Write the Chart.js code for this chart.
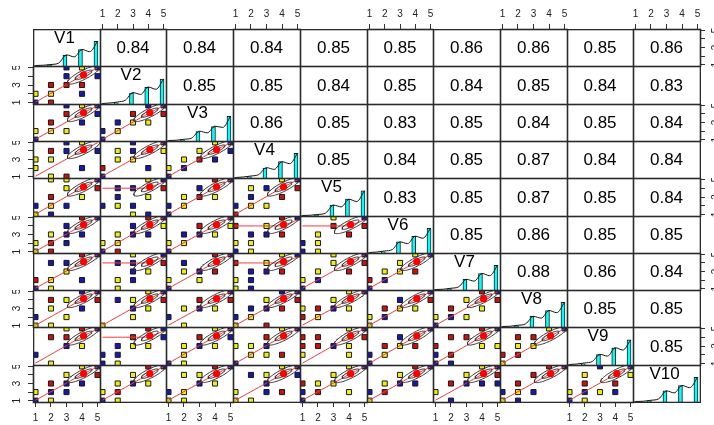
<!DOCTYPE html>
<html>
<head>
<meta charset="utf-8">
<script src="https://cdn.jsdelivr.net/npm/chart.js@4.4.1/dist/chart.umd.min.js"></script>
<style>
  body { margin: 0; background: #fff; }
  #grid { position: relative; width: 714px; height: 425px; overflow: hidden; }
  #grid canvas { position: absolute; }
</style>
</head>
<body>
<div id="grid"></div>
<script>
// variable names and axis ticks
const varNames = ['V1', 'V2', 'V3', 'V4', 'V5', 'V6', 'V7', 'V8', 'V9', 'V10'];
const tickValues = [1, 2, 3, 4, 5];
const sideTickLabels = ['1', '', '3', '', '5'];

// correlations shown in the upper triangle (row i, columns i+1..10)
const corrRow1 = [0.84, 0.84, 0.84, 0.85, 0.85, 0.86, 0.86, 0.85, 0.86];
const corrRow2 = [0.85, 0.85, 0.84, 0.85, 0.84, 0.85, 0.84, 0.83];
const corrRow3 = [0.86, 0.85, 0.83, 0.85, 0.84, 0.85, 0.84];
const corrRow4 = [0.85, 0.84, 0.85, 0.87, 0.84, 0.84];
const corrRow5 = [0.83, 0.85, 0.87, 0.85, 0.84];
const corrRow6 = [0.85, 0.86, 0.85, 0.85];
const corrRow7 = [0.88, 0.86, 0.84];
const corrRow8 = [0.85, 0.85];
const corrRow9 = [0.85];

// histogram bars (relative height) at values 1..5 for each variable
const histX = [1, 2, 3, 4, 5];
const histHeights = [
  [0.02, 0.04, 0.43, 0.67, 1.0],
  [0.02, 0.05, 0.43, 0.66, 0.98],
  [0.02, 0.04, 0.38, 0.58, 1.0],
  [0.02, 0.05, 0.40, 0.67, 1.0],
  [0.02, 0.04, 0.43, 0.67, 0.99],
  [0.02, 0.05, 0.45, 0.68, 1.0],
  [0.02, 0.04, 0.43, 0.67, 1.0],
  [0.02, 0.04, 0.43, 0.67, 1.0],
  [0.02, 0.05, 0.41, 0.68, 0.99],
  [0.02, 0.04, 0.45, 0.67, 1.0]
];

// density curve
const densityX = [1, 1.5, 2, 2.5, 3, 3.5, 4, 4.5, 5];
const densityY = [
  [0.02, 0.03, 0.06, 0.12, 0.45, 0.37, 0.67, 0.58, 1.0],
  [0.02, 0.04, 0.08, 0.15, 0.45, 0.38, 0.67, 0.58, 0.98],
  [0.02, 0.03, 0.07, 0.12, 0.40, 0.33, 0.60, 0.55, 1.0],
  [0.02, 0.04, 0.08, 0.14, 0.42, 0.35, 0.66, 0.58, 1.0],
  [0.02, 0.03, 0.06, 0.12, 0.43, 0.36, 0.66, 0.57, 1.0],
  [0.02, 0.04, 0.08, 0.14, 0.45, 0.38, 0.68, 0.60, 1.0],
  [0.02, 0.03, 0.07, 0.13, 0.43, 0.36, 0.67, 0.58, 1.0],
  [0.02, 0.03, 0.07, 0.13, 0.43, 0.36, 0.67, 0.58, 1.0],
  [0.02, 0.04, 0.08, 0.14, 0.42, 0.35, 0.68, 0.59, 0.99],
  [0.02, 0.03, 0.07, 0.13, 0.45, 0.37, 0.67, 0.58, 1.0]
];

// scatter points of the lower triangle: group letter + x + y
const lowerRow2 = ['Y12 B11 R23 Y22 R21 B35 B34 R33 B42 R43 Y45 B54 B55'];
const lowerRow3 = ['B35 R34 R23 B43 Y12 Y22 Y32 B11 B54 Y45 B55', 'B12 B11 Y22 B23 R34 Y33 Y43 R54 B45 B55'];
const lowerRow4 = ['Y13 Y12 R24 Y23 Y21 B34 R31 Y45 B42 B54 B35', 'R12 B11 Y23 Y24 B34 Y33 B42 Y54 B35 B55',
  'Y12 Y23 B22 R33 Y34 B43 B11 B55 Y45 B54'];
const lowerRow5 = ['Y25 Y35 Y34 R23 Y43 B12 Y22 B32 R54 Y11 B21 B55', 'B24 B34 R54 Y45 B23 Y43 B12 Y22 B32 Y31 B41 B55',
  'B12 Y23 B34 Y22 R33 Y43 B11 B55 R45', 'Y24 B34 B12 R43 R54 Y32 Y22 R11 Y45 B55 B23'];
const lowerRow6 = ['B34 R45 Y23 B33 B43 Y12 R22 B32 R21 Y11 B55', 'B34 B43 Y23 B33 Y12 Y22 B11 R21 R45 B55 Y54',
  'Y12 B23 B33 Y22 R34 Y43 B11 B55 Y54', 'R14 Y34 B23 B33 Y12 Y22 Y21 R43 B11 R45 B55',
  'Y23 Y22 Y21 B12 B11 R34 R43 Y35 B55 R54'];
const lowerRow7 = ['B24 B34 Y33 Y22 B11 Y21 B42 R45 B55 R12', 'B24 B34 Y35 Y43 B33 Y22 B32 Y21 B55 R54',
  'B24 Y12 Y23 B33 Y32 R43 B11 B55 R45', 'R14 Y34 B23 B33 Y12 B22 Y11 B21 R43 Y45 B55',
  'Y23 Y34 B22 R43 R54 Y35 B11 B55 Y12', 'R12 Y23 B22 Y34 R43 B11 B55 Y45 Y33'];
const lowerRow8 = ['R24 Y34 Y23 B12 Y21 B43 Y32 R54 B45 Y11 B55', 'B24 Y34 Y43 Y32 Y11 B33 R54 B55 Y45',
  'B12 Y23 R34 B33 Y43 Y21 B55 R54', 'B45 Y34 R54 B23 R43 B12 Y22 B33 R31 Y11 B55',
  'Y34 Y43 R12 Y22 R23 B33 Y13 B55 Y45', 'Y11 B22 R23 Y33 B34 Y43 B55 R54 Y12',
  'R23 Y34 Y12 B22 Y32 Y43 R45 R54 B11 B55'];
const lowerRow9 = ['R24 R34 Y35 B12 Y21 Y43 B33 B55 R45', 'R34 B23 B12 B22 B11 Y21 Y43 Y33 B54 B55 R45',
  'Y23 Y22 B11 Y21 B33 Y43 R34 B55 B54 Y45', 'R34 Y13 Y23 B33 Y22 R42 Y32 Y45 B11 B55',
  'R14 R24 R13 R23 B33 Y43 Y42 Y12 B55 Y45 R54', 'B12 R23 Y33 Y22 B34 R43 B11 B55',
  'R24 R34 R13 R22 B12 Y43 Y53 B11 B21 B55 R45', 'R24 R34 Y23 Y33 R12 R22 Y11 B55 Y45'];
const lowerRow10 = ['Y34 R23 B33 Y12 B22 B32 B11 Y21 R54 B43 B55 Y45', 'Y23 Y34 R22 Y12 B11 Y21 B33 Y43 B55 R45',
  'Y24 Y34 Y22 Y43 B12 Y11 Y21 B33 B55 R45', 'B24 Y34 B33 Y12 Y11 B32 R42 Y21 B54 B55 Y45',
  'Y34 Y23 Y33 R13 B12 Y42 B11 B55 Y45 R22', 'Y11 B12 Y23 R22 B33 Y34 B43 B55 R45',
  'Y45 R23 B33 Y12 Y34 B21 B43 B53 B55 R54', 'Y22 R23 R34 B21 B32 Y11 B12 B55 R45',
  'Y24 R23 Y12 B22 Y32 R43 B42 Y21 B11 Y54 B35 B55'];

// smoother lines and mean marker
const smoothX = [1, 2, 3, 4, 5];
const smoothDiagY = [1.05, 2.05, 3.05, 4.05, 4.95];
const smoothFlatY = [4, 4, 4, 4.05, 4.7];
const flatSmoothCells = ['5-2', '6-4', '6-5', '7-2', '7-4', '9-2'];
const meanX = 4.1;
const meanY = 4.15;
const ellipseSizes = [0.55, 1.05];

const corrRows = [corrRow1, corrRow2, corrRow3, corrRow4, corrRow5, corrRow6, corrRow7, corrRow8, corrRow9];
const lowerRows = [lowerRow2, lowerRow3, lowerRow4, lowerRow5, lowerRow6, lowerRow7, lowerRow8, lowerRow9, lowerRow10];

const groupColors = { Y: '#eeee10', R: '#cc1010', B: '#1818b0' };
const colEdges = [33, 100, 166, 233, 300, 367, 433, 500, 567, 633, 700];
const rowEdges = [29, 66, 104, 141, 178, 216, 253, 290, 327, 365, 402];
const fontFamily = '"Liberation Sans", Arial, sans-serif';

Chart.defaults.font.family = fontFamily;

const grid = document.querySelector('#grid');

const parsePoints = (str) => str.split(' ').map(tok => ({
  x: Number(tok[1]), y: Number(tok[2]), g: tok[0]
}));

const ellipsePoints = (r, size) => {
  const d = Math.acos(r);
  const pts = [];
  for (let k = 0; k <= 72; k++) {
    const t = k / 72 * 2 * Math.PI;
    pts.push({ x: meanX + size * Math.cos(t + d / 2), y: meanY + size * Math.cos(t - d / 2) });
  }
  return pts;
};

//Eje lineal compartido por todas las celdas
const makeAxis = (axis, show, pos, min, max) => {
  const horizontal = axis === 'x';
  return {
    type: 'linear', min, max, position: pos, display: show, offset: false,
    grid: { display: true, offset: false, drawOnChartArea: false, drawTicks: true, tickLength: 5, color: '#333', tickColor: '#333' },
    border: { display: false },
    ticks: {
      autoSkip: false,
      color: '#222',
      font: { size: 10, family: fontFamily },
      padding: horizontal ? (pos === 'top' ? 4 : 5) : 8,
      minRotation: horizontal ? 0 : 90,
      maxRotation: horizontal ? 0 : 90,
      crossAlign: horizontal ? 'near' : 'center',
      callback: (v) => horizontal ? String(v) : sideTickLabels[tickValues.indexOf(v)]
    },
    afterBuildTicks: (s) => { s.ticks = tickValues.map(v => ({ value: v })); },
    afterFit: (s) => {
      if (!show) return;
      if (horizontal) {
        s.height = pos === 'top' ? 29 : 23;
        s.paddingLeft = 0; s.paddingRight = 0;
      } else {
        s.width = pos === 'left' ? 33 : 14;
        s.paddingTop = 0; s.paddingBottom = 0;
      }
    }
  };
};

const framePlugin = (label, labelY) => ({
  id: 'cellFrame',
  afterDraw(chart) {
    const { ctx, chartArea: a } = chart;
    ctx.save();
    if (label) {
      ctx.font = '17px ' + fontFamily;
      ctx.fillStyle = '#000';
      ctx.textAlign = 'center';
      ctx.textBaseline = 'middle';
      const y = labelY === 'top' ? a.top + 9.5 : (a.top + a.bottom) / 2 + 1;
      const x = labelY === 'top' ? (a.left + a.right) / 2 - 2 : (a.left + a.right) / 2;
      ctx.fillText(label, x, y);
    }
    ctx.strokeStyle = '#2a2a2a';
    ctx.lineWidth = 1.6;
    ctx.strokeRect(a.left + 0.5, a.top + 0.5, a.right - a.left, a.bottom - a.top);
    ctx.restore();
  }
});

const lowerDatasets = (r, c) => {
  const pts = parsePoints(lowerRows[r - 1][c]);
  const corr = corrRows[c][r - c - 1];
  const flat = flatSmoothCells.includes(`${r + 1}-${c + 1}`);
  const smoothY = flat ? smoothFlatY : smoothDiagY;
  return [
    { type: 'scatter', data: [{ x: meanX, y: meanY }], pointRadius: 3.6, pointBackgroundColor: '#ff0000',
      pointBorderWidth: 0, clip: 0, order: 0 },
    ...ellipseSizes.map(size => ({
      type: 'line', data: ellipsePoints(corr, size), borderColor: '#333', borderWidth: 1,
      pointRadius: 0, tension: 0, clip: 0, order: 1
    })),
    { type: 'line', data: smoothX.map((x, k) => ({ x, y: smoothY[k] })), borderColor: '#f03a3a',
      borderWidth: 1, pointRadius: 0, tension: 0.3, clip: 0, order: 2 },
    { type: 'scatter', data: pts, pointStyle: 'rect', pointRadius: 3.6, pointBorderWidth: 1,
      pointBorderColor: '#1a1a1a', pointBackgroundColor: pts.map(p => groupColors[p.g]), clip: 0, order: 3 }
  ];
};

const diagDatasets = (i) => [
  { type: 'line', data: densityX.map((x, k) => ({ x, y: densityY[i][k] })), borderColor: '#111',
    borderWidth: 1, pointRadius: 0, cubicInterpolationMode: 'monotone', clip: 0, order: 0 },
  { type: 'bar', data: histX.map((x, k) => ({ x: x - 0.1, y: histHeights[i][k] })), barThickness: 4,
    backgroundColor: '#00ffff', borderColor: '#1a1a1a', borderWidth: 1, clip: 0, order: 1 }
];

const makeCell = (r, c) => {
  const top = r === 0 && c % 2 === 1;
  const bottom = r === 9 && c % 2 === 0;
  const left = c === 0 && r % 2 === 1;
  const right = c === 9 && r % 2 === 0;
  const padL = left ? 33 : 0, padR = right ? 14 : 1, padT = top ? 29 : 0, padB = bottom ? 23 : 1;
  const w = colEdges[c + 1] - colEdges[c];
  const h = rowEdges[r + 1] - rowEdges[r];

  const canvas = document.createElement('canvas');
  canvas.width = padL + w + padR;
  canvas.height = padT + h + padB;
  canvas.style.left = (colEdges[c] - padL) + 'px';
  canvas.style.top = (rowEdges[r] - padT) + 'px';
  canvas.style.width = canvas.width + 'px';
  canvas.style.height = canvas.height + 'px';
  grid.appendChild(canvas);

  const diag = r === c;
  let datasets = [];
  let label = null, labelPos = 'center';
  if (diag) {
    datasets = diagDatasets(r);
    label = varNames[r];
    labelPos = 'top';
  } else if (r > c) {
    datasets = lowerDatasets(r, c);
  } else {
    label = corrRows[r][c - r - 1].toFixed(2);
    datasets = [{ type: 'scatter', data: [] }];
  }

  const xPos = top ? 'top' : 'bottom';
  const yPos = right ? 'right' : 'left';

  new Chart(canvas, {
    type: diag ? 'bar' : 'scatter',
    data: { datasets },
    options: {
      responsive: false,
      maintainAspectRatio: false,
      devicePixelRatio: 1,
      animation: false,
      events: [],
      layout: { autoPadding: false, padding: { left: 0, top: 0, right: right ? 0 : 1, bottom: bottom ? 0 : 1 } },
      plugins: { legend: { display: false }, tooltip: { enabled: false } },
      scales: {
        x: makeAxis('x', top || bottom, xPos, 0.84, 5.16),
        y: diag ? makeAxis('y', false, yPos, 0, 1.5) : makeAxis('y', left || right, yPos, 0.84, 5.16)
      }
    },
    plugins: [framePlugin(label, labelPos)]
  });
};

for (let r = 0; r < 10; r++) {
  for (let c = 0; c < 10; c++) {
    makeCell(r, c);
  }
}
</script>
</body>
</html>
